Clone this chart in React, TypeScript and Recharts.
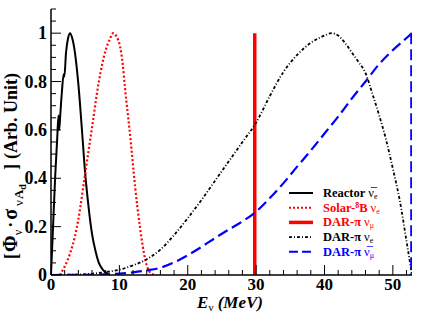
import React from 'react';
import { LineChart, Line, XAxis, YAxis, Legend } from 'recharts';

const FONT = "'Liberation Serif', 'Times New Roman', 'DejaVu Serif', serif";
const serif = { fontFamily: FONT };

// axis ticks
const xTicks = [0, 2, 4, 6, 8, 10, 12, 14, 16, 18, 20, 22, 24, 26, 28, 30, 32, 34, 36, 38, 40, 42, 44, 46, 48, 50, 52];
const xMajor = [0, 10, 20, 30, 40, 50];
const yTicks = [0, 0.05, 0.1, 0.15, 0.2, 0.25, 0.3, 0.35, 0.4, 0.45, 0.5, 0.55, 0.6, 0.65, 0.7, 0.75, 0.8, 0.85, 0.9, 0.95, 1, 1.05, 1.1];
const yMajor = [0, 0.2, 0.4, 0.6, 0.8, 1];

// Reactor anti-nu_e
const reactorE = [0, 0.3, 0.6, 0.9, 1.1, 1.2, 1.35, 1.6, 1.85, 1.95, 2.2, 2.5, 2.8, 3.1, 3.5, 4.0, 4.5, 5.0, 5.5, 6.0, 6.5, 7.0, 7.5, 8.0, 8.5];
const reactorV = [0, 0.2, 0.4, 0.56, 0.66, 0.6, 0.66, 0.76, 0.83, 0.82, 0.92, 0.98, 1.0, 0.98, 0.92, 0.79, 0.61, 0.42, 0.28, 0.17, 0.1, 0.05, 0.025, 0.01, 0];

// Solar 8B nu_e
const solarE = [1.3, 2, 2.8, 3.5, 4, 5, 6, 7, 8, 8.6, 9.1, 9.6, 10.1, 10.5, 10.8, 11.6, 12.3, 13, 13.8, 14.5, 15.2];
const solarV = [0, 0.035, 0.09, 0.16, 0.23, 0.42, 0.61, 0.8, 0.93, 0.975, 1.0, 0.985, 0.945, 0.87, 0.78, 0.57, 0.365, 0.2, 0.062, 0.01, 0];

// DAR-pi nu_mu (monochromatic line)
const numuE = [29.8, 29.8];
const numuV = [0, 1];

// DAR-pi nu_e
const nueE = [0, 4, 8, 10, 12, 14, 16, 18, 20, 22, 24, 26, 28, 30, 32, 34, 36, 38, 40, 41, 42, 43, 44, 45, 46, 47, 48, 49, 50, 51, 52, 52.8];
const nueV = [0, 0.002, 0.012, 0.022, 0.04, 0.065, 0.105, 0.165, 0.235, 0.31, 0.39, 0.47, 0.55, 0.63, 0.74, 0.84, 0.91, 0.96, 0.99, 1.0, 0.99, 0.96, 0.92, 0.88, 0.835, 0.75, 0.66, 0.56, 0.44, 0.31, 0.14, 0];

// DAR-pi anti-nu_mu
const numubarE = [0, 6, 10, 12, 14, 16, 18, 20, 22, 24, 26, 28, 30, 32, 34, 36, 38, 40, 42, 44, 46, 48, 50, 52, 52.8];
const numubarV = [0, 0.001, 0.006, 0.011, 0.019, 0.03, 0.052, 0.082, 0.116, 0.153, 0.188, 0.222, 0.262, 0.318, 0.38, 0.448, 0.515, 0.585, 0.655, 0.73, 0.8, 0.872, 0.93, 0.98, 1.0];
const edgeE = [52.7, 52.7];
const edgeV = [1, 0];

const pts = (xs: number[], ys: number[]) => xs.map((E, i) => ({ E, v: ys[i] }));

const MAJOR = 10;
const MINOR = 5;

const BottomTick = (props: any) => {
  const { x, y, payload } = props;
  const major = xMajor.includes(payload.value);
  return (
    <g>
      <line x1={x} y1={y} x2={x} y2={y - (major ? MAJOR : MINOR)} stroke="#000" strokeWidth={1} />
      {major && (
        <text x={x} y={y + 15} textAnchor="middle" style={serif} fontWeight="bold" fontSize={17} fill="#000">
          {payload.value}
        </text>
      )}
    </g>
  );
};

const TopTick = (props: any) => {
  const { x, y, payload } = props;
  const major = xMajor.includes(payload.value);
  return <line x1={x} y1={y} x2={x} y2={y + (major ? MAJOR : MINOR)} stroke="#000" strokeWidth={1} />;
};

const LeftTick = (props: any) => {
  const { x, y, payload } = props;
  const major = yMajor.includes(payload.value);
  return (
    <g>
      <line x1={x} y1={y} x2={x + (major ? MAJOR : MINOR)} y2={y} stroke="#000" strokeWidth={1} />
      {major && (
        <text x={x - 4} y={y + 6} textAnchor="end" style={serif} fontWeight="bold" fontSize={18} fill="#000">
          {payload.value}
        </text>
      )}
    </g>
  );
};

const RightTick = (props: any) => {
  const { x, y, payload } = props;
  const major = yMajor.includes(payload.value);
  return <line x1={x} y1={y} x2={x - (major ? MAJOR : MINOR)} y2={y} stroke="#000" strokeWidth={1} />;
};

const XTitle = () => (
  <text x={230} y={308} textAnchor="middle" style={serif} fontWeight="bold" fontSize={17} fill="#000">
    <tspan fontStyle="italic">E</tspan>
    <tspan fontSize={11} dy={3} fontWeight="normal">ν</tspan>
    <tspan fontStyle="italic" dy={-3}> (MeV)</tspan>
  </text>
);

const YTitle = () => (
  <text
    x={17}
    y={166}
    transform="rotate(-90, 17, 166)"
    textAnchor="middle"
    style={serif}
    fontWeight="bold"
    fontSize={18}
    fill="#000"
  >
    <tspan>[</tspan>
    <tspan fontSize={20} dx={1}>Φ</tspan>
    <tspan fontSize={12} dy={5} fontWeight="normal">ν</tspan>
    <tspan dy={-5} dx={2}>·</tspan>
    <tspan fontSize={20} dx={2}>σ</tspan>
    <tspan fontSize={13} dy={6} dx={3} fontWeight="normal">ν</tspan>
    <tspan fontSize={13} dx={1}>A</tspan>
    <tspan fontSize={10} dy={3}>d</tspan>
    <tspan dy={-9} dx={14}>]</tspan>
    <tspan dx={5}>(Arb. Unit)</tspan>
  </text>
);

const legendRows = [
  { stroke: '#000000', dash: undefined, w: 2, color: '#000000' },
  { stroke: '#ff0000', dash: '2 2', w: 2, color: '#ff0000' },
  { stroke: '#ff0000', dash: undefined, w: 3.5, color: '#ff0000' },
  { stroke: '#000000', dash: '3 2 1 2', w: 1.8, color: '#000000' },
  { stroke: '#0000ff', dash: '9 4', w: 2, color: '#0000ff' },
];

const Nu = ({ sub, bar }: { sub: string; bar?: boolean }) => (
  <>
    <tspan fontWeight="normal" dx={3}>{bar ? 'ν\u0305' : 'ν'}</tspan>
    <tspan fontWeight="normal" fontSize={8} dy={2}>{sub}</tspan>
  </>
);

const legendLabels = [
  <>Reactor<Nu sub="e" bar /></>,
  <>Solar-<tspan fontSize={8} dy={-4}>8</tspan><tspan dy={4}>B</tspan><Nu sub="e" /></>,
  <>DAR-π<Nu sub="μ" /></>,
  <>DAR-π<Nu sub="e" /></>,
  <>DAR-π<Nu sub="μ" bar /></>,
];

const LegendBox = () => (
  <svg width={135} height={82} style={{ display: 'block' }}>
    {legendRows.map((r, i) => {
      const base = 14 + i * 14.7;
      return (
        <g key={i}>
          <line x1={4} x2={28} y1={base - 4} y2={base - 4} stroke={r.stroke} strokeWidth={r.w} strokeDasharray={r.dash} />
          <text x={38} y={base} style={serif} fontWeight="bold" fontSize={12.5} fill={r.color}>
            {legendLabels[i]}
          </text>
        </g>
      );
    })}
  </svg>
);

export default function App() {
  return (
    <div style={{ position: 'absolute', left: 0, top: 0, width: 425, height: 313, background: '#fff', fontFamily: FONT }}>
      <LineChart width={425} height={313} margin={{ top: 9, right: 13, bottom: 8, left: 8 }}>
        <XAxis
          dataKey="E"
          type="number"
          domain={[0, 52.8]}
          allowDataOverflow
          ticks={xTicks}
          interval={0}
          tickSize={0}
          tickMargin={0}
          tickLine={false}
          tick={<BottomTick />}
          axisLine={{ stroke: '#000', strokeWidth: 1.5 }}
          height={30}
          label={<XTitle />}
        />
        <XAxis
          xAxisId="top"
          orientation="top"
          dataKey="E"
          type="number"
          domain={[0, 52.8]}
          allowDataOverflow
          ticks={xTicks}
          interval={0}
          tickSize={0}
          tickMargin={0}
          tickLine={false}
          tick={<TopTick />}
          axisLine={{ stroke: '#000', strokeWidth: 1.5 }}
          height={0}
        />
        <YAxis
          type="number"
          domain={[0, 1.1]}
          allowDataOverflow
          ticks={yTicks}
          interval={0}
          tickSize={0}
          tickMargin={0}
          tickLine={false}
          tick={<LeftTick />}
          axisLine={{ stroke: '#000', strokeWidth: 1.5 }}
          width={43}
          label={<YTitle />}
        />
        <YAxis
          yAxisId="right"
          orientation="right"
          type="number"
          domain={[0, 1.1]}
          allowDataOverflow
          ticks={yTicks}
          interval={0}
          tickSize={0}
          tickMargin={0}
          tickLine={false}
          tick={<RightTick />}
          axisLine={{ stroke: '#000', strokeWidth: 1.5 }}
          width={0}
        />
        <Line data={pts(reactorE, reactorV)} dataKey="v" type="monotone" stroke="#000000" strokeWidth={2} dot={false} activeDot={false} isAnimationActive={false} />
        <Line data={pts(solarE, solarV)} dataKey="v" type="monotone" stroke="#ff0000" strokeWidth={2.2} strokeDasharray="2 2.2" dot={false} activeDot={false} isAnimationActive={false} />
        <Line data={pts(numuE, numuV)} dataKey="v" type="linear" stroke="#ff0000" strokeWidth={3.5} dot={false} activeDot={false} isAnimationActive={false} />
        <Line data={pts(nueE, nueV)} dataKey="v" type="monotone" stroke="#000000" strokeWidth={1.8} strokeDasharray="3 2 1 2" dot={false} activeDot={false} isAnimationActive={false} />
        <Line data={pts(numubarE, numubarV)} dataKey="v" type="monotone" stroke="#0000ff" strokeWidth={2.2} strokeDasharray="11 5" dot={false} activeDot={false} isAnimationActive={false} />
        <Line data={pts(edgeE, edgeV)} dataKey="v" type="linear" stroke="#0000ff" strokeWidth={2.2} strokeDasharray="11 5" dot={false} activeDot={false} isAnimationActive={false} />
        <Legend
          layout="vertical"
          align="center"
          verticalAlign="middle"
          content={<LegendBox />}
          wrapperStyle={{ left: 285, top: 183, width: 135, height: 82 }}
        />
      </LineChart>
    </div>
  );
}
